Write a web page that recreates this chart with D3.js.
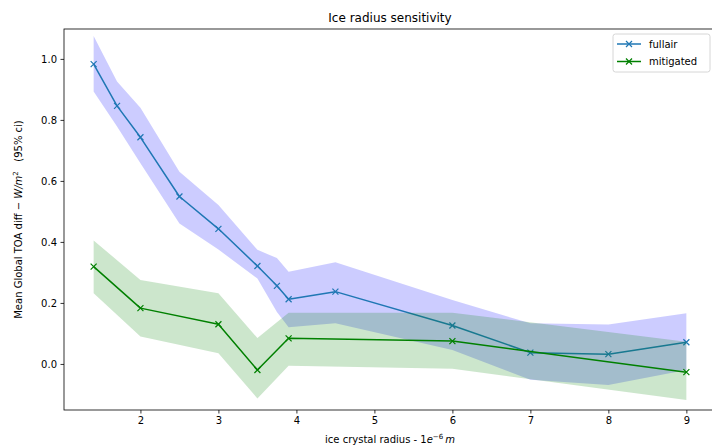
<!DOCTYPE html>
<html>
<head>
<meta charset="utf-8">
<script src="https://cdn.jsdelivr.net/npm/d3@7"></script>
<style>
    body { margin: 0; background: #fff; }
    svg { display: block; font-family: "DejaVu Sans", sans-serif; }
</style>
</head>
<body>
<svg id="chart" width="712" height="448"></svg>
<script>
"use strict";

// fullair run
var fullairX = [1.4, 1.7, 2, 2.5, 3, 3.5, 3.75, 3.9, 4.5, 6, 7, 8, 9]
var fullairMean = [0.983, 0.846, 0.743, 0.549, 0.443, 0.321, 0.256, 0.212, 0.237, 0.126, 0.037, 0.032, 0.071]
var fullairUpper = [1.075, 0.926, 0.840, 0.630, 0.521, 0.374, 0.347, 0.302, 0.333, 0.210, 0.133, 0.129, 0.166]
var fullairLower = [0.893, 0.778, 0.658, 0.460, 0.375, 0.280, 0.170, 0.120, 0.133, 0.046, -0.052, -0.069, -0.020]

// mitigated run
var mitigatedX = [1.4, 2, 3, 3.5, 3.9, 6, 9]
var mitigatedMean = [0.319, 0.183, 0.130, -0.020, 0.084, 0.075, -0.027]
var mitigatedUpper = [0.405, 0.275, 0.232, 0.085, 0.168, 0.168, 0.073]
var mitigatedLower = [0.232, 0.090, 0.035, -0.113, -0.006, -0.016, -0.118]

var xTicks = [2, 3, 4, 5, 6, 7, 8, 9]
var yTicks = [0.0, 0.2, 0.4, 0.6, 0.8, 1.0]
var seriesNames = ["fullair", "mitigated"]

var margin = {left: 64, top: 29, right: 716, bottom: 410}
var lineColors = ["#1f77b4", "green"]
var fillColors = ["blue", "green"]

var svg = d3.select("#chart")

var xs = d3.scaleLinear().domain([1.02, 9.38]).range([margin.left, margin.right])
var ys = d3.scaleLinear().domain([-0.151, 1.098]).range([margin.bottom, margin.top])

function rows(xv, mean, lo, hi) {
    return xv.map(function(d, i) {
        return {x: d, y: mean[i], lo: lo[i], hi: hi[i]}
    })
}

var series = [
    rows(fullairX, fullairMean, fullairLower, fullairUpper),
    rows(mitigatedX, mitigatedMean, mitigatedLower, mitigatedUpper)
]

var plot = svg.append("g")

var area = d3.area()
    .x(function(d) { return xs(d.x) })
    .y0(function(d) { return ys(d.lo) })
    .y1(function(d) { return ys(d.hi) })

var line = d3.line()
    .x(function(d) { return xs(d.x) })
    .y(function(d) { return ys(d.y) })

function xMarker(g, cx, cy, color) {
    var r = 3
    g.append("path")
        .attr("d", "M" + (cx - r) + "," + (cy - r) + "L" + (cx + r) + "," + (cy + r) +
            "M" + (cx - r) + "," + (cy + r) + "L" + (cx + r) + "," + (cy - r))
        .attr("stroke", color)
        .attr("stroke-width", 1.2)
        .attr("fill", "none")
}

series.forEach(function(data, i) {
    plot.append("path")
        .datum(data)
        .attr("d", area)
        .attr("fill", fillColors[i])
        .attr("fill-opacity", 0.2)
        .attr("stroke", "none")

    plot.append("path")
        .datum(data)
        .attr("d", line)
        .attr("fill", "none")
        .attr("stroke", lineColors[i])
        .attr("stroke-width", 1.5)
        .attr("stroke-linejoin", "round")

    data.forEach(function(d) {
        xMarker(plot, xs(d.x), ys(d.y), lineColors[i])
    })
})

// axes
var xAxis = svg.append("g")
    .attr("transform", "translate(0," + margin.bottom + ")")
    .call(d3.axisBottom(xs).tickValues(xTicks).tickSize(3.5).tickPadding(3.5).tickFormat(d3.format("d")))
var yAxis = svg.append("g")
    .attr("transform", "translate(" + margin.left + ",0)")
    .call(d3.axisLeft(ys).tickValues(yTicks).tickSize(3.5).tickPadding(3.5).tickFormat(d3.format(".1f")))

;[xAxis, yAxis].forEach(function(a) {
    a.select(".domain").remove()
    a.selectAll("line").attr("stroke", "#000").attr("stroke-width", 0.8)
    a.selectAll("text").attr("font-size", 10).attr("fill", "#000")
        .attr("font-family", "DejaVu Sans")
})

// frame
svg.append("rect")
    .attr("x", margin.left)
    .attr("y", margin.top)
    .attr("width", margin.right - margin.left)
    .attr("height", margin.bottom - margin.top)
    .attr("fill", "none")
    .attr("stroke", "#000")
    .attr("stroke-width", 0.8)

// title
svg.append("text")
    .attr("x", (margin.left + margin.right) / 2)
    .attr("y", margin.top - 7)
    .attr("text-anchor", "middle")
    .attr("font-size", 12)
    .text("Ice radius sensitivity")

// x label
var xl = svg.append("text")
    .attr("x", (margin.left + margin.right) / 2)
    .attr("y", 443)
    .attr("text-anchor", "middle")
    .attr("font-size", 10)
xl.append("tspan").text("ice crystal radius - 1")
xl.append("tspan").attr("font-style", "italic").text("e")
xl.append("tspan").attr("font-size", 7).attr("dy", -4).text("\u22126")
xl.append("tspan").attr("dy", 4).text("\u2009")
xl.append("tspan").attr("font-style", "italic").text("m")

// y label
var yl = svg.append("text")
    .attr("transform", "translate(22," + (margin.top + margin.bottom) / 2 + ") rotate(-90)")
    .attr("text-anchor", "middle")
    .attr("font-size", 10)
yl.append("tspan").text("Mean Global TOA diff \u2212 ")
yl.append("tspan").attr("font-style", "italic").text("W/m")
yl.append("tspan").attr("font-size", 7).attr("dy", -4).text("2")
yl.append("tspan").attr("dy", 4).text("\u00a0\u00a0\u00a0(95% ci)")

// legend
var legend = svg.append("g").attr("transform", "translate(613,34)")
legend.append("rect")
    .attr("width", 97)
    .attr("height", 38)
    .attr("rx", 2.5)
    .attr("fill", "#fff")
    .attr("fill-opacity", 0.8)
    .attr("stroke", "#ccc")
    .attr("stroke-width", 0.8)

seriesNames.forEach(function(name, i) {
    var ly = 10 + i * 17.5
    legend.append("line")
        .attr("x1", 4).attr("x2", 28)
        .attr("y1", ly).attr("y2", ly)
        .attr("stroke", lineColors[i])
        .attr("stroke-width", 1.5)
    xMarker(legend, 16, ly, lineColors[i])
    legend.append("text")
        .attr("x", 36)
        .attr("y", ly)
        .attr("dy", "0.35em")
        .attr("font-size", 10)
        .text(name)
})
</script>
</body>
</html>
